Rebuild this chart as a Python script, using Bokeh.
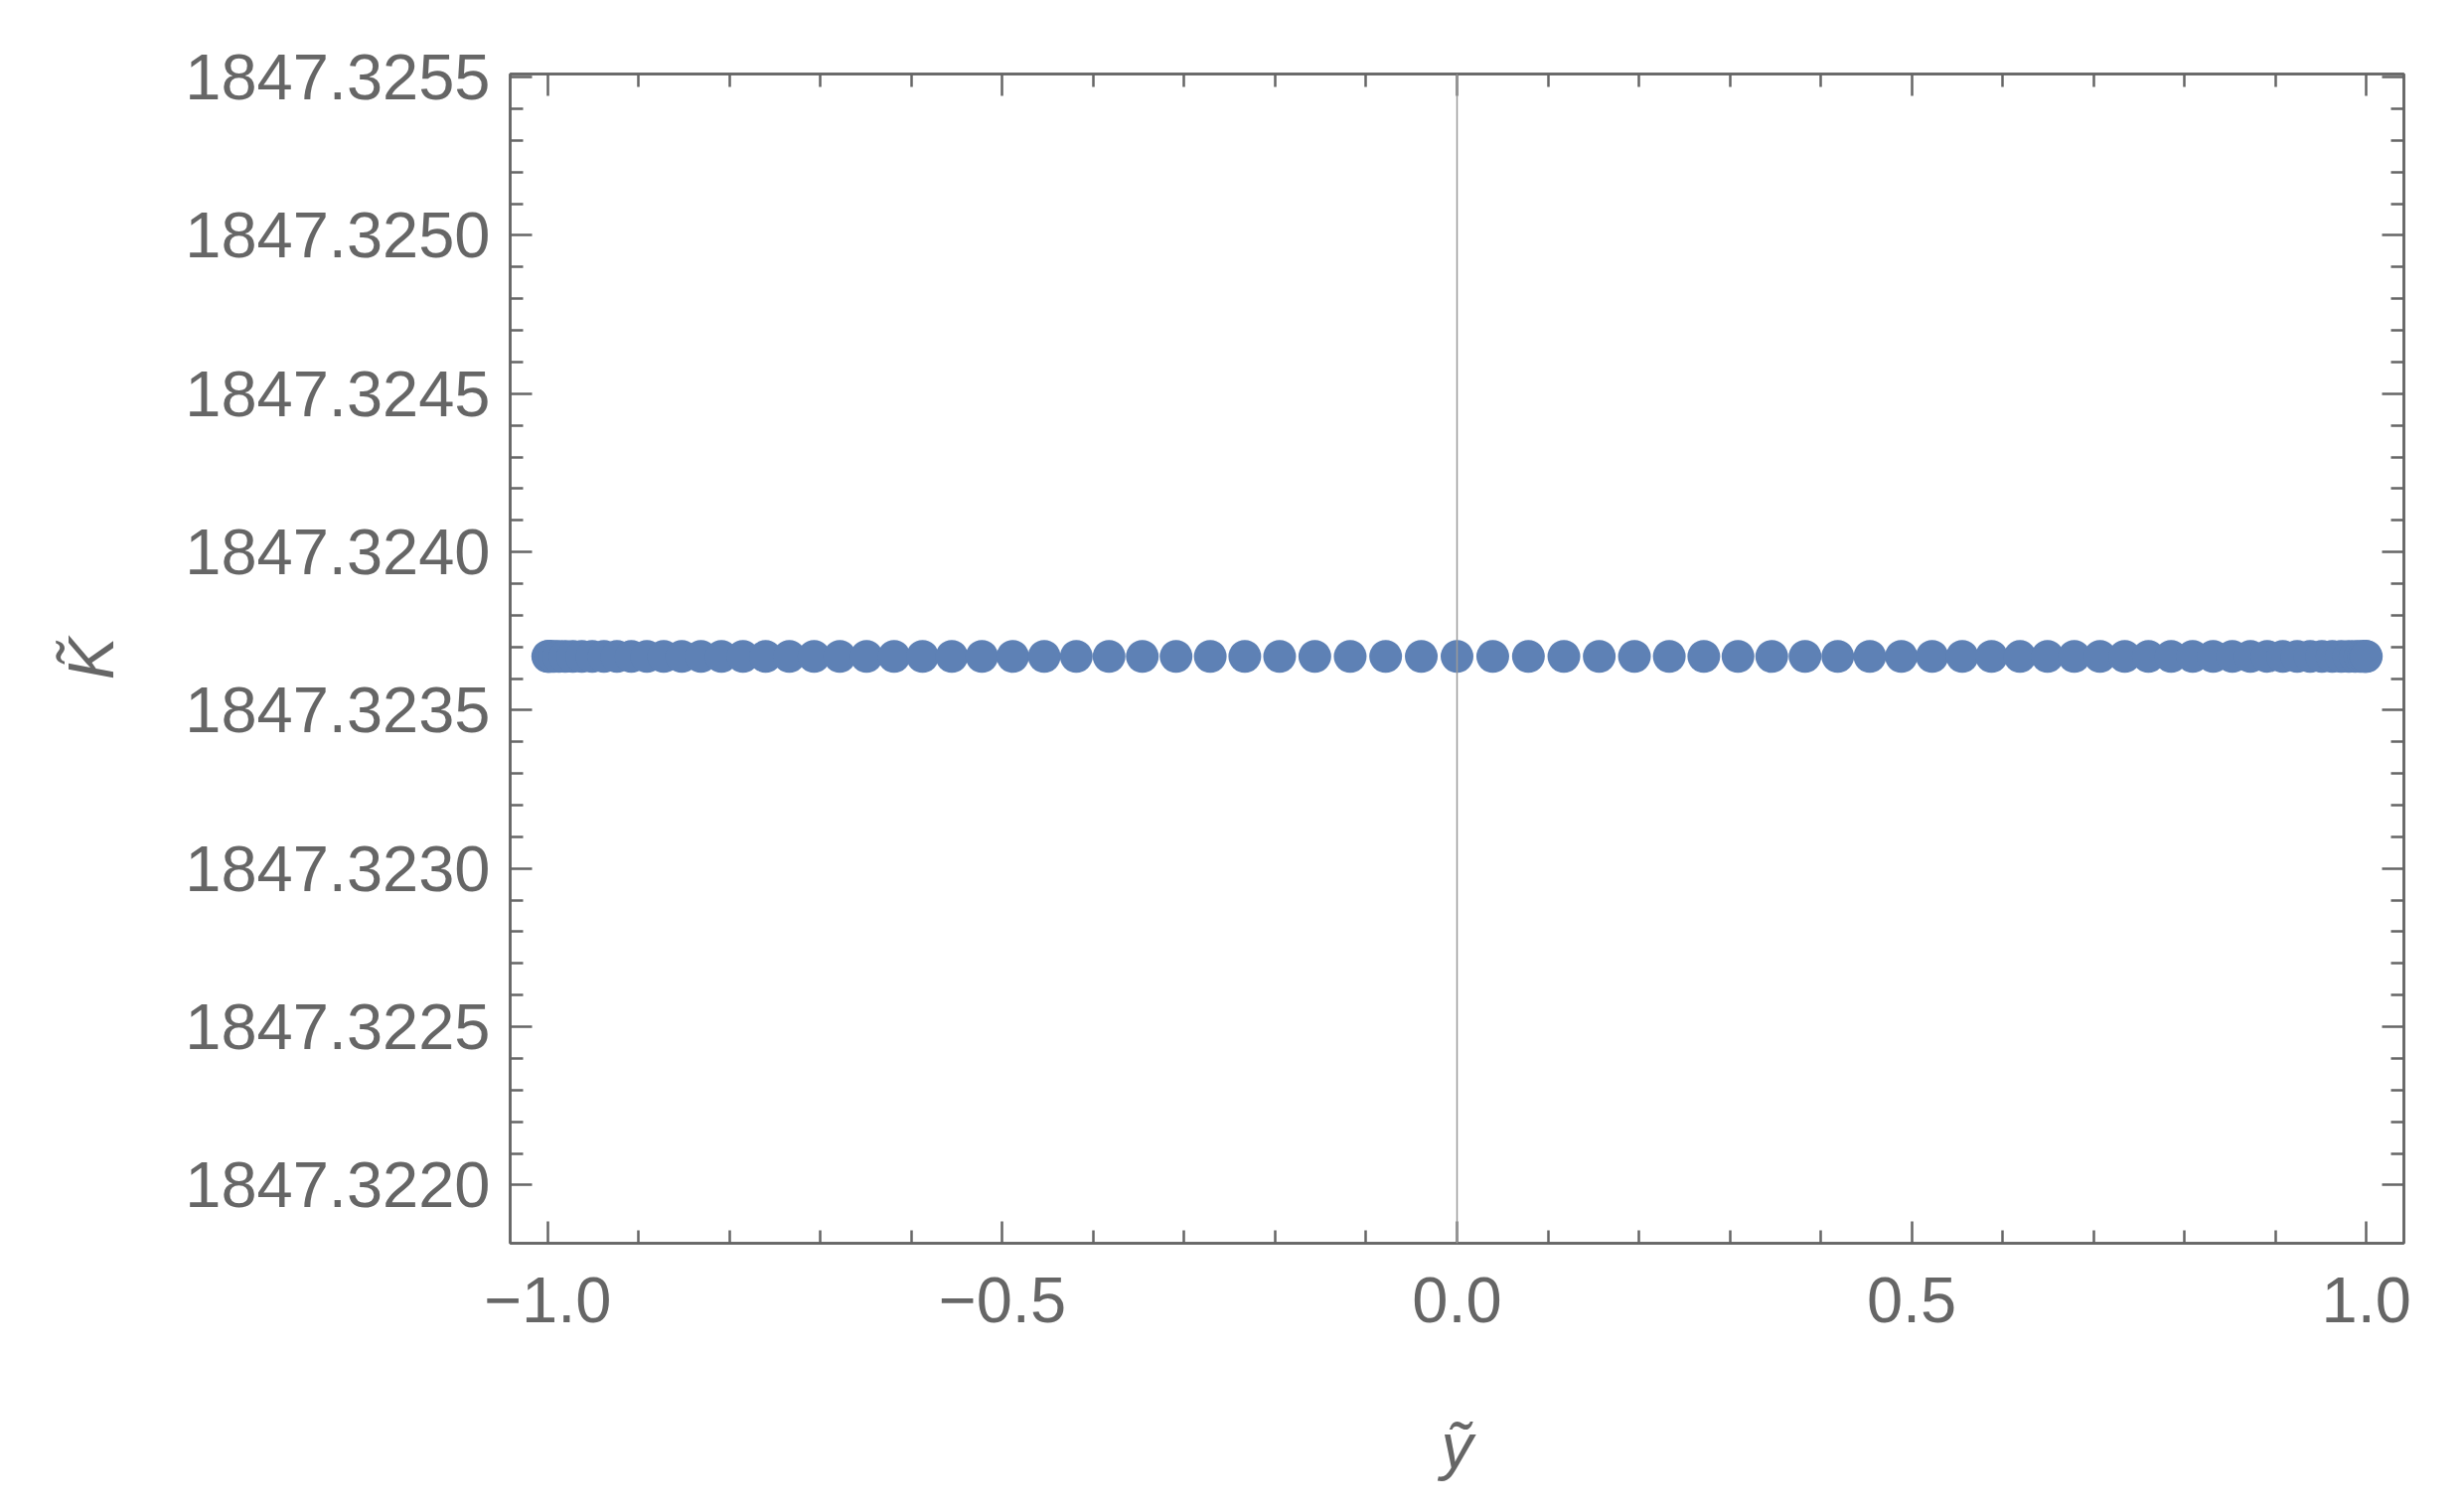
from bokeh.plotting import figure
from bokeh.models import (LinearAxis, FixedTicker, Range1d, Span,
                          CustomJSTickFormatter, PrintfTickFormatter)
from bokeh.embed import file_html
from bokeh.resources import INLINE

# ---- data ----
Y_TILDE = [
    -1.0000, -0.9992, -0.9969, -0.9931, -0.9877, -0.9808, -0.9724, -0.9625,
    -0.9511, -0.9382, -0.9239, -0.9081, -0.8910, -0.8725, -0.8526, -0.8315,
    -0.8090, -0.7853, -0.7604, -0.7343, -0.7071, -0.6788, -0.6494, -0.6191,
    -0.5878, -0.5556, -0.5225, -0.4886, -0.4540, -0.4187, -0.3827, -0.3461,
    -0.3090, -0.2714, -0.2334, -0.1951, -0.1564, -0.1175, -0.0785, -0.0393,
    0.0000,
    0.0393, 0.0785, 0.1175, 0.1564, 0.1951, 0.2334, 0.2714, 0.3090,
    0.3461, 0.3827, 0.4187, 0.4540, 0.4886, 0.5225, 0.5556, 0.5878,
    0.6191, 0.6494, 0.6788, 0.7071, 0.7343, 0.7604, 0.7853, 0.8090,
    0.8315, 0.8526, 0.8725, 0.8910, 0.9081, 0.9239, 0.9382, 0.9511,
    0.9625, 0.9724, 0.9808, 0.9877, 0.9931, 0.9969, 0.9992, 1.0000,
]
K_TILDE = [
    1847.32367, 1847.32367, 1847.32367, 1847.32367, 1847.32367, 1847.32367, 1847.32367, 1847.32367,
    1847.32367, 1847.32367, 1847.32367, 1847.32367, 1847.32367, 1847.32367, 1847.32367, 1847.32367,
    1847.32367, 1847.32367, 1847.32367, 1847.32367, 1847.32367, 1847.32367, 1847.32367, 1847.32367,
    1847.32367, 1847.32367, 1847.32367, 1847.32367, 1847.32367, 1847.32367, 1847.32367, 1847.32367,
    1847.32367, 1847.32367, 1847.32367, 1847.32367, 1847.32367, 1847.32367, 1847.32367, 1847.32367,
    1847.32367,
    1847.32367, 1847.32367, 1847.32367, 1847.32367, 1847.32367, 1847.32367, 1847.32367, 1847.32367,
    1847.32367, 1847.32367, 1847.32367, 1847.32367, 1847.32367, 1847.32367, 1847.32367, 1847.32367,
    1847.32367, 1847.32367, 1847.32367, 1847.32367, 1847.32367, 1847.32367, 1847.32367, 1847.32367,
    1847.32367, 1847.32367, 1847.32367, 1847.32367, 1847.32367, 1847.32367, 1847.32367, 1847.32367,
    1847.32367, 1847.32367, 1847.32367, 1847.32367, 1847.32367, 1847.32367, 1847.32367, 1847.32367,
]
X_MAJOR = [-1.0, -0.5, 0.0, 0.5, 1.0]
X_MINOR = [-0.9, -0.8, -0.7, -0.6, -0.4, -0.3, -0.2, -0.1,
           0.1, 0.2, 0.3, 0.4, 0.6, 0.7, 0.8, 0.9]
Y_MAJOR = [1847.3220, 1847.3225, 1847.3230, 1847.3235, 1847.3240,
           1847.3245, 1847.3250, 1847.3255]
Y_MINOR = [1847.3221, 1847.3222, 1847.3223, 1847.3224,
           1847.3226, 1847.3227, 1847.3228, 1847.3229,
           1847.3231, 1847.3232, 1847.3233, 1847.3234,
           1847.3236, 1847.3237, 1847.3238, 1847.3239,
           1847.3241, 1847.3242, 1847.3243, 1847.3244,
           1847.3246, 1847.3247, 1847.3248, 1847.3249,
           1847.3251, 1847.3252, 1847.3253, 1847.3254]
X_LABEL = "ỹ"
Y_LABEL = "K̃"

GRAY = "#666666"
BLUE = "#5E81B5"
FONT = "Liberation Sans"

p = figure(
    frame_width=1906, frame_height=1177,
    min_border_left=513, min_border_right=45,
    min_border_top=74, min_border_bottom=253,
    x_range=Range1d(-1.0413, 1.0413),
    y_range=Range1d(1847.321816, 1847.32551),
    output_backend="svg", toolbar_location=None,
    x_axis_location=None, y_axis_location=None,
)
p.grid.visible = False
p.outline_line_color = GRAY
p.outline_line_width = 2.5
p.background_fill_color = "white"
p.border_fill_color = "white"

xt = FixedTicker(ticks=X_MAJOR, minor_ticks=X_MINOR)
yt = FixedTicker(ticks=Y_MAJOR, minor_ticks=Y_MINOR)
blank = CustomJSTickFormatter(code="return '';")


def style(ax, show):
    ax.axis_line_color = GRAY
    ax.axis_line_width = 2.5
    ax.major_tick_line_color = GRAY
    ax.minor_tick_line_color = GRAY
    ax.major_tick_line_width = 2.5
    ax.minor_tick_line_width = 2.5
    ax.major_tick_in = 22
    ax.major_tick_out = 0
    ax.minor_tick_in = 13
    ax.minor_tick_out = 0
    ax.major_label_text_color = GRAY
    ax.major_label_text_font = FONT
    ax.major_label_text_font_size = "65px" if show else "1px"
    ax.axis_label_text_color = GRAY
    ax.axis_label_text_font = FONT
    ax.axis_label_text_font_size = "64px"
    ax.axis_label_text_font_style = "italic"


xb = LinearAxis(ticker=xt,
                formatter=CustomJSTickFormatter(code="return tick.toFixed(1).replace('-', '\\u2212');"),
                axis_label=X_LABEL)
style(xb, True)
xb.major_label_standoff = 34
xb.axis_label_standoff = 86
p.add_layout(xb, "below")

yl = LinearAxis(ticker=yt, formatter=PrintfTickFormatter(format="%.4f"),
                axis_label=Y_LABEL)
style(yl, True)
yl.major_label_standoff = 20
yl.axis_label_standoff = 55
p.add_layout(yl, "left")

xa = LinearAxis(ticker=xt, formatter=blank)
style(xa, False)
xa.major_label_standoff = 0
p.add_layout(xa, "above")

yr = LinearAxis(ticker=yt, formatter=blank)
style(yr, False)
yr.major_label_standoff = 0
p.add_layout(yr, "right")

p.scatter(Y_TILDE, K_TILDE, size=33, marker="circle",
          fill_color=BLUE, line_color=None)

p.add_layout(Span(location=0, dimension="height", line_color="#9a9a9a",
                  line_width=1.5))

open("out.html", "w").write(file_html(p, INLINE))
